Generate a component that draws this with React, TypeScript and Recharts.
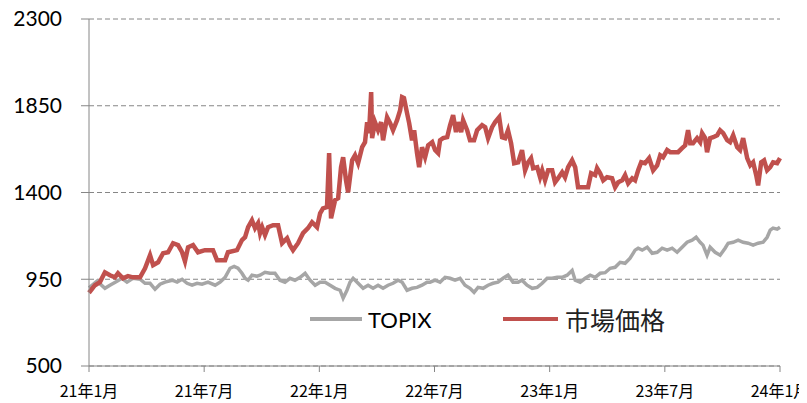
import { CartesianGrid, Line, LineChart, XAxis, YAxis } from "recharts";

// months since 2021-01
const topixMonths = [
  0, 0.42, 0.83, 1.09, 1.46, 1.72, 1.98, 2.29, 2.66, 2.92, 3.18, 3.44, 3.7, 3.96, 4.33, 4.59, 4.85,
  5.11, 5.37, 5.63, 5.89, 6.2, 6.57, 6.83, 7.09, 7.35, 7.56, 7.76, 7.97, 8.13, 8.29, 8.49, 8.75,
  8.91, 9.17, 9.43, 9.69, 9.95, 10.21, 10.47, 10.73, 11.0, 11.26, 11.52, 11.78, 12.04, 12.3, 12.56,
  12.82, 13.08, 13.24, 13.44, 13.6, 13.76, 14.02, 14.28, 14.54, 14.8, 15.06, 15.32, 15.58, 15.84,
  16.1, 16.31, 16.57, 16.83, 17.09, 17.35, 17.61, 17.77, 18.03, 18.29, 18.55, 18.81, 19.07, 19.33,
  19.59, 19.85, 20.06, 20.27, 20.53, 20.79, 21.05, 21.31, 21.57, 21.83, 22.09, 22.36, 22.56, 22.82,
  23.09, 23.35, 23.61, 23.87, 24.13, 24.39, 24.65, 24.91, 25.17, 25.33, 25.59, 25.85, 26.11, 26.37,
  26.63, 26.89, 27.15, 27.41, 27.67, 27.93, 28.19, 28.45, 28.61, 28.82, 29.08, 29.34, 29.6, 29.86,
  30.12, 30.38, 30.64, 30.9, 31.16, 31.42, 31.63, 31.84, 31.99, 32.2, 32.36, 32.62, 32.88, 33.14,
  33.3, 33.56, 33.82, 34.08, 34.34, 34.6, 34.86, 35.12, 35.33, 35.49, 35.64, 35.85, 36,
];
const topixValues = [
  905, 940, 903, 919, 940, 955, 935, 955, 950, 929, 929, 898, 924, 935, 945, 935, 950,
  929, 919, 929, 924, 935, 919, 935, 960, 1007, 1017, 1007, 981, 955, 945, 971, 966,
  971, 986, 981, 981, 945, 935, 955, 945, 960, 981, 945, 919, 935, 935, 919,
  903, 893, 852, 893, 935, 955, 929, 903, 919, 903, 919, 903, 919, 929,
  945, 935, 893, 903, 908, 919, 935, 935, 945, 935, 960, 955, 945, 955,
  919, 903, 882, 908, 903, 919, 929, 935, 955, 971, 935, 935, 945, 919,
  903, 908, 929, 955, 955, 960, 960, 971, 996, 945, 935, 955, 971, 960,
  981, 984, 1007, 1012, 1038, 1033, 1059, 1101, 1111, 1101, 1116, 1085, 1090, 1111,
  1101, 1111, 1090, 1116, 1142, 1153, 1168, 1142, 1127, 1075, 1116, 1090, 1075, 1111,
  1137, 1142, 1153, 1142, 1137, 1127, 1137, 1142, 1168, 1205, 1215, 1210, 1220,
];

const marketMonths = [
  0, 0.31, 0.57, 0.83, 1.09, 1.35, 1.51, 1.77, 2.03, 2.29, 2.66, 2.92, 3.18, 3.34, 3.6, 3.86, 4.12,
  4.38, 4.64, 4.85, 5.0, 5.16, 5.42, 5.68, 6.04, 6.46, 6.67, 7.09, 7.24, 7.71, 7.97, 8.13, 8.29,
  8.49, 8.65, 8.81, 8.91, 9.02, 9.17, 9.33, 9.59, 9.85, 10.06, 10.32, 10.47, 10.63, 10.89, 11.15,
  11.41, 11.62, 11.88, 12.04, 12.19, 12.4, 12.51, 12.61, 12.82, 12.98, 13.13, 13.24, 13.39, 13.5,
  13.71, 13.86, 14.02, 14.23, 14.38, 14.49, 14.59, 14.7, 14.75, 14.9, 15.06, 15.22, 15.32, 15.53,
  15.69, 15.84, 16.05, 16.21, 16.31, 16.41, 16.57, 16.68, 16.83, 16.94, 17.09, 17.2, 17.35, 17.51,
  17.67, 17.88, 18.03, 18.19, 18.29, 18.45, 18.66, 18.81, 18.97, 19.12, 19.23, 19.39, 19.49, 19.7,
  19.85, 20.06, 20.22, 20.48, 20.64, 20.79, 21.0, 21.16, 21.37, 21.52, 21.68, 21.83, 21.99, 22.15,
  22.36, 22.56, 22.72, 22.88, 23.03, 23.14, 23.35, 23.5, 23.61, 23.76, 23.92, 24.13, 24.28, 24.44,
  24.65, 24.8, 24.96, 25.17, 25.33, 25.48, 26.0, 26.16, 26.37, 26.47, 26.63, 26.79, 26.99, 27.25,
  27.41, 27.57, 27.78, 27.93, 28.09, 28.3, 28.45, 28.61, 28.77, 28.97, 29.18, 29.39, 29.6, 29.76,
  29.91, 30.12, 30.28, 30.43, 30.69, 30.9, 31.06, 31.21, 31.32, 31.47, 31.68, 31.84, 31.94, 32.1,
  32.2, 32.36, 32.52, 32.73, 32.88, 33.04, 33.25, 33.4, 33.56, 33.77, 33.92, 34.08, 34.29, 34.45,
  34.6, 34.76, 34.86, 35.02, 35.17, 35.33, 35.49, 35.64, 35.85, 36,
];
const marketValues = [
  880, 919, 935, 986, 971, 960, 981, 955, 966, 960, 960, 1007, 1075, 1023, 1038, 1085, 1090,
  1137, 1127, 1090, 1043, 1116, 1127, 1090, 1101, 1101, 1049, 1049, 1090, 1101, 1153, 1168, 1220,
  1256, 1215, 1241, 1189, 1220, 1179, 1220, 1230, 1230, 1137, 1163, 1127, 1101, 1137, 1189,
  1215, 1246, 1220, 1292, 1318, 1324, 1604, 1266, 1360, 1370, 1531, 1583, 1463, 1401,
  1567, 1593, 1552, 1635, 1661, 1765, 1708, 1921, 1682, 1765, 1723, 1765, 1671, 1791,
  1760, 1723, 1775, 1827, 1895, 1890, 1812, 1760, 1671, 1723, 1604, 1531, 1635, 1583,
  1645, 1661, 1620, 1604, 1671, 1682, 1687, 1749, 1801, 1713, 1765, 1713, 1775, 1723,
  1671, 1671, 1723, 1749, 1739, 1682, 1739, 1765, 1791, 1687, 1682, 1723, 1656, 1552,
  1557, 1620, 1515, 1557, 1578, 1526, 1531, 1479, 1515, 1463, 1515, 1515, 1453, 1474,
  1505, 1479, 1531, 1567, 1531, 1427, 1427, 1500, 1490, 1526, 1500, 1463, 1479, 1474,
  1427, 1453, 1463, 1490, 1448, 1474, 1463, 1515, 1557, 1552, 1578, 1515, 1541, 1593,
  1583, 1620, 1609, 1609, 1609, 1630, 1645, 1723, 1656, 1656, 1682, 1661, 1708, 1682,
  1609, 1682, 1687, 1697, 1723, 1708, 1671, 1661, 1697, 1635, 1620, 1682, 1578, 1541,
  1557, 1490, 1437, 1557, 1567, 1515, 1531, 1557, 1552, 1578,
];

const xTicks = [0, 6, 12, 18, 24, 30, 36];
const xLabels = ["21年1月", "21年7月", "22年1月", "22年7月", "23年1月", "23年7月", "24年1月"];
const yTicks = [500, 950, 1400, 1850, 2300];

const topixData = topixMonths.map((t, i) => ({ t, v: topixValues[i] }));
const marketData = marketMonths.map((t, i) => ({ t, v: marketValues[i] }));

const GRAY = "#a6a6a6";
const RED = "#c0504d";
const AXIS = "#868686";

export default function App() {
  return (
    <div style={{ position: "relative", width: 799, height: 395 }}>
      <LineChart
        width={799}
        height={395}
        margin={{ top: 11, right: 27, bottom: 7, left: 11 }}
        style={{ overflow: "visible" }}
      >
        <CartesianGrid horizontal vertical={false} stroke={AXIS} strokeDasharray="5 3" />
        <XAxis
          type="number"
          dataKey="t"
          domain={[0, 36]}
          ticks={xTicks}
          tickFormatter={(v: number) => xLabels[xTicks.indexOf(v)] ?? ""}
          height={30}
          tickSize={6}
          tickMargin={14}
          stroke={AXIS}
          tick={{ fill: "#000", fontSize: 16, fontFamily: "'Noto Sans CJK JP', sans-serif" }}
          interval={0}
        />
        <YAxis
          type="number"
          domain={[500, 2300]}
          ticks={yTicks}
          width={70}
          tickSize={8}
          tickMargin={19}
          stroke={AXIS}
          tick={{ fill: "#000", fontSize: 21, fontFamily: "Lato, sans-serif" }}
          interval={0}
        />
        <Line
          data={topixData}
          dataKey="v"
          name="TOPIX"
          type="linear"
          stroke={GRAY}
          strokeWidth={3.5}
          dot={false}
          isAnimationActive={false}
        />
        <Line
          data={marketData}
          dataKey="v"
          name="市場価格"
          type="linear"
          stroke={RED}
          strokeWidth={4.5}
          dot={false}
          isAnimationActive={false}
        />
      </LineChart>
      <div
        style={{
          position: "absolute",
          left: 302,
          top: 296,
          height: 30,
          display: "flex",
          alignItems: "center",
          background: "#fff",
        }}
      >
        <span style={{ display: "inline-block", width: 52, height: 3.5, background: GRAY }} />
        <span style={{ marginLeft: 6, fontFamily: "Lato, sans-serif", fontSize: 22, color: "#000", width: 135 }}>
          TOPIX
        </span>
        <span style={{ display: "inline-block", width: 55, height: 4, background: RED }} />
        <span
          style={{ marginLeft: 7, fontFamily: "'Noto Sans CJK JP', sans-serif", fontSize: 25, color: "#222" }}
        >
          市場価格
        </span>
      </div>
    </div>
  );
}
